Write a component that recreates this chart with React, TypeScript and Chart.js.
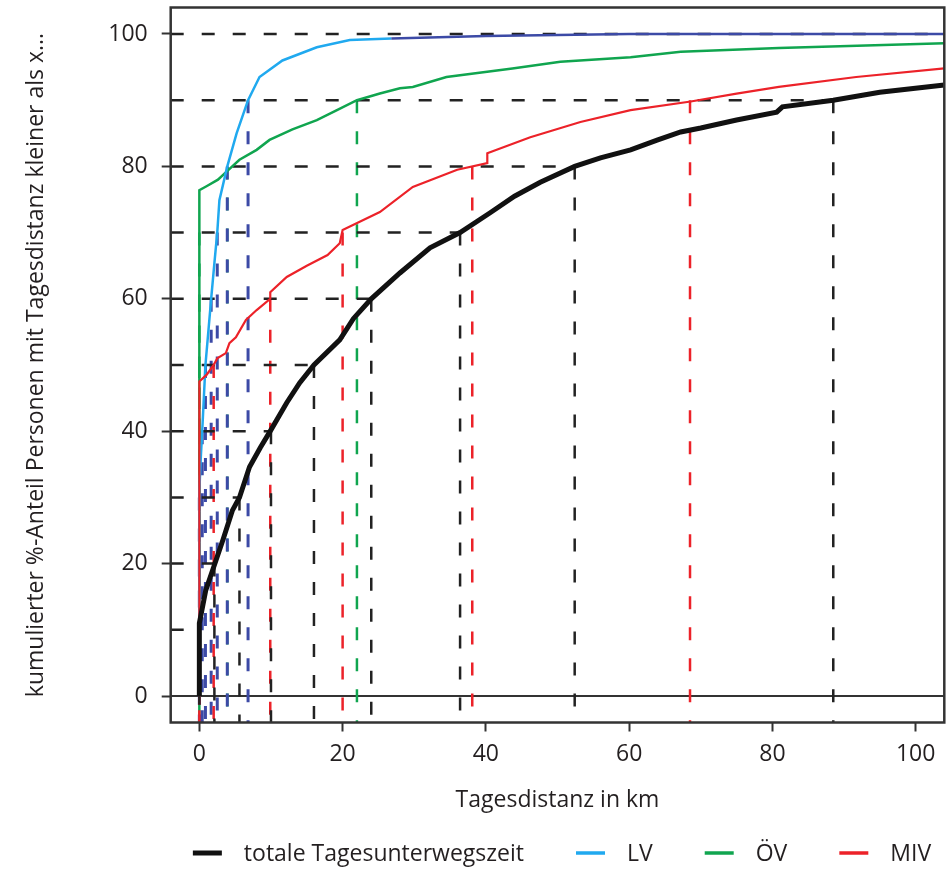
import React, { useEffect, useRef } from 'react';
import { Chart, registerables } from 'chart.js';

Chart.register(...registerables);

const FONT = '"Open Sans", Lato, sans-serif';
const FONT_SIZE = 23;
const TEXT = '#231f20';
const AXIS = '#333333';

// axis range (data 0..100 extended by 4 %)
const X_MIN = -4;
const X_MAX = 104;
const Y_MIN = -4;
const Y_MAX = 104;
const xTicks = [0, 20, 40, 60, 80, 100];
const yTicks = [0, 20, 40, 60, 80, 100];

// deciles (%) and the distance quantiles (km) of each group
const deciles = [10, 20, 30, 40, 50, 60, 70, 80, 90];
const qTotal = [0, 2.1, 5.6, 10.0, 16.0, 24.0, 36.4, 52.4, 88.5];
const qLV = [0, 0, 0, 0.4, 0.85, 1.65, 2.5, 3.9, 6.8];
const qOEV = [0, 0, 0, 0, 0, 0, 0, 3.9, 22.0];
const qMIV = [0, 0, 0, 0, 2.0, 9.9, 20.0, 38.1, 68.5];

// cumulative curves: distance (km) and cumulative share (%)
const totalX = [0, 0, 0.9, 2.1, 3.3, 4.6, 5.6, 7, 8.5, 10, 12.2, 14, 16, 19.6, 21.5, 24, 28, 32.2, 36.4, 40.6, 44, 47.6, 52.4, 56, 60.2, 64, 67.2, 70, 75, 80.6, 81.4, 88.5, 95, 104];
const totalY = [0, 11, 16, 19.8, 23.6, 28, 30, 34.6, 37.5, 40.2, 44.3, 47.3, 50, 53.8, 57, 60, 63.9, 67.7, 70, 73, 75.5, 77.6, 80, 81.3, 82.5, 84, 85.2, 85.8, 87, 88.2, 89, 90, 91.2, 92.3];

const lvX = [0, 0, 0.2, 0.4, 0.85, 1.65, 2.1, 2.5, 2.8, 3.9, 5.2, 6.8, 8.4, 11.6, 16.4, 21, 26.8, 40, 60, 104];
const lvY = [0, 31, 36, 40, 50, 60, 65.4, 70, 74.9, 80, 85, 90, 93.5, 96, 98, 99.1, 99.3, 99.7, 100, 100];
const lvTailFrom = 26.8; // from here the LV curve is drawn dark blue

const oevX = [0, 0, 1, 2.6, 3.8, 5.6, 8, 9.8, 13, 16.4, 19, 22, 25.2, 28, 29.8, 34.5, 43.7, 50.4, 60.2, 67.2, 80.9, 104];
const oevY = [0, 76.4, 77, 78, 79.2, 81, 82.5, 84, 85.6, 87, 88.4, 90, 91, 91.8, 92, 93.5, 94.8, 95.8, 96.5, 97.3, 97.9, 98.6];

const mivX = [0, 0, 1, 2, 2.5, 3.7, 4.2, 5.1, 6.5, 8, 9.9, 9.9, 12.2, 15, 17.9, 19.6, 20, 25.2, 29.8, 36, 40.2, 40.2, 46.2, 53.2, 60.2, 68.6, 75, 80.9, 91.7, 104];
const mivY = [0, 47.5, 48.5, 50, 51, 51.8, 53.3, 54.2, 56.8, 58.3, 60, 61, 63.3, 65, 66.6, 68.4, 70.4, 73.1, 76.9, 79.5, 80.5, 82, 84.4, 86.7, 88.5, 89.8, 91, 92, 93.5, 94.8];

const seriesLabels = ['totale Tagesunterwegszeit', 'LV', 'ÖV', 'MIV'];
const seriesColors = ['#111111', '#20a9ef', '#10a54f', '#ec2229'];
const lvTailColor = '#3c4aa6';
const quantileColors = ['#222222', '#3c4aa6', '#10a54f', '#ec2229'];

const zip = (xs: number[], ys: number[]) => xs.map((x, i) => ({ x, y: ys[i] }));

const verticals = (q: number[]) => {
  const pts: { x: number; y: number | null }[] = [];
  q.forEach((x, i) => {
    pts.push({ x, y: deciles[i] }, { x, y: Y_MIN }, { x, y: null });
  });
  return pts;
};

const horizontals = () => {
  const pts: { x: number; y: number | null }[] = [];
  deciles.forEach((d, i) => {
    const reach = Math.max(qTotal[i], qLV[i], qOEV[i], qMIV[i]);
    pts.push({ x: X_MIN, y: d }, { x: reach, y: d }, { x: X_MIN, y: null });
  });
  pts.push({ x: X_MIN, y: 100 }, { x: X_MAX, y: 100 });
  return pts;
};

const DASH = [13, 18];

const boxAndLegend = {
  id: 'boxAndLegend',
  afterDraw(chart: any) {
    const { ctx, chartArea } = chart;
    const { left, top, right, bottom } = chartArea;
    ctx.save();
    ctx.strokeStyle = AXIS;
    ctx.lineWidth = 2.5;
    ctx.strokeRect(left, top, right - left, bottom - top);

    // legend
    ctx.font = `${FONT_SIZE}px ${FONT}`;
    ctx.textBaseline = 'middle';
    ctx.textAlign = 'left';
    const lineW = 29;
    const gapText = 22;
    const itemGap = 52;
    const widths = seriesLabels.map((t) => lineW + gapText + ctx.measureText(t).width);
    const total = widths.reduce((a, b) => a + b, 0) + itemGap * (seriesLabels.length - 1);
    const centerX = 562;
    const y = 853;
    let x = centerX - total / 2;
    seriesLabels.forEach((t, i) => {
      ctx.strokeStyle = seriesColors[i];
      ctx.lineWidth = i === 0 ? 5 : 3.5;
      ctx.beginPath();
      ctx.moveTo(x, y);
      ctx.lineTo(x + lineW, y);
      ctx.stroke();
      ctx.fillStyle = TEXT;
      ctx.fillText(t, x + lineW + gapText, y + 1);
      x += widths[i] + itemGap;
    });
    ctx.restore();
  },
};

export default function App() {
  const ref = useRef<HTMLCanvasElement | null>(null);

  useEffect(() => {
    if (!ref.current) return;
    const curve = (label: string, xs: number[], ys: number[], color: string, width: number, order: number) => ({
      label,
      data: zip(xs, ys),
      borderColor: color,
      borderWidth: width,
      pointRadius: 0,
      fill: false,
      tension: 0,
      order,
    });
    const dashed = (label: string, data: any[], color: string, width: number, order: number) => ({
      label,
      data,
      borderColor: color,
      borderWidth: width,
      borderDash: DASH,
      borderCapStyle: 'butt',
      pointRadius: 0,
      fill: false,
      spanGaps: false,
      tension: 0,
      order,
    });

    const lvCurve: any = curve(seriesLabels[1], lvX, lvY, seriesColors[1], 2.5, 3);
    lvCurve.segment = {
      borderColor: (c: any) => (c.p0.parsed.x >= lvTailFrom ? lvTailColor : seriesColors[1]),
    };

    const chart = new Chart(ref.current, {
      type: 'line',
      data: {
        datasets: [
          curve(seriesLabels[0], totalX, totalY, seriesColors[0], 5, 1),
          curve(seriesLabels[3], mivX, mivY, seriesColors[3], 2.2, 2),
          lvCurve,
          curve(seriesLabels[2], oevX, oevY, seriesColors[2], 2.5, 4),
          dashed('Quantile total', verticals(qTotal), quantileColors[0], 2.5, 10),
          dashed('Quantile MIV', verticals(qMIV), quantileColors[3], 2.5, 11),
          dashed('Quantile LV', verticals(qLV), quantileColors[1], 3, 12),
          dashed('Quantile ÖV', verticals(qOEV), quantileColors[2], 2.5, 13),
          dashed('Dezile', horizontals(), quantileColors[0], 2.5, 9),
          {
            label: 'Nulllinie',
            data: [{ x: X_MIN, y: 0 }, { x: X_MAX, y: 0 }],
            borderColor: AXIS,
            borderWidth: 2,
            pointRadius: 0,
            fill: false,
            order: 20,
          },
        ] as any,
      },
      options: {
        animation: false,
        responsive: false,
        devicePixelRatio: 1,
        layout: { padding: { top: 7.5, right: 5.7, left: 0, bottom: 0 } },
        plugins: {
          legend: { display: false },
          tooltip: { enabled: false },
          title: { display: false },
        },
        scales: {
          x: {
            type: 'linear',
            min: X_MIN,
            max: X_MAX,
            afterFit: (s: any) => {
              s.height = 147.5;
              s.paddingLeft = 0;
              s.paddingRight = 0;
            },
            afterBuildTicks: (s: any) => {
              s.ticks = xTicks.map((v) => ({ value: v }));
            },
            ticks: {
              includeBounds: false,
              padding: 9,
              color: TEXT,
              font: { family: FONT, size: FONT_SIZE },
              maxRotation: 0,
              callback: (v: any) => String(v),
            },
            grid: {
              display: true,
              drawOnChartArea: false,
              drawTicks: true,
              tickLength: 9,
              tickColor: AXIS,
              tickWidth: 2,
              color: AXIS,
            },
            border: { display: false },
            title: {
              display: true,
              text: 'Tagesdistanz in km',
              color: TEXT,
              font: { family: FONT, size: FONT_SIZE },
              padding: { top: 0, bottom: 56 },
            },
          },
          y: {
            type: 'linear',
            min: Y_MIN,
            max: Y_MAX,
            afterFit: (s: any) => {
              s.width = 170.7;
              s.paddingTop = 0;
              s.paddingBottom = 0;
            },
            afterBuildTicks: (s: any) => {
              s.ticks = yTicks.map((v) => ({ value: v }));
            },
            ticks: {
              includeBounds: false,
              padding: 14,
              color: TEXT,
              font: { family: FONT, size: FONT_SIZE },
              callback: (v: any) => String(v),
            },
            grid: {
              display: true,
              drawOnChartArea: false,
              drawTicks: true,
              tickLength: 9,
              tickColor: AXIS,
              tickWidth: 2,
              color: AXIS,
            },
            border: { display: false },
            title: {
              display: true,
              text: 'kumulierter %-Anteil Personen mit Tagesdistanz kleiner als x...',
              color: TEXT,
              font: { family: FONT, size: FONT_SIZE },
              padding: { top: 23, bottom: 0 },
            },
          },
        },
      } as any,
      plugins: [boxAndLegend],
    });
    return () => chart.destroy();
  }, []);

  return (
    <div style={{ position: 'absolute', left: 0, top: 0, width: 950, height: 870, background: '#fff' }}>
      <canvas ref={ref} width={950} height={870} style={{ display: 'block' }} />
    </div>
  );
}
